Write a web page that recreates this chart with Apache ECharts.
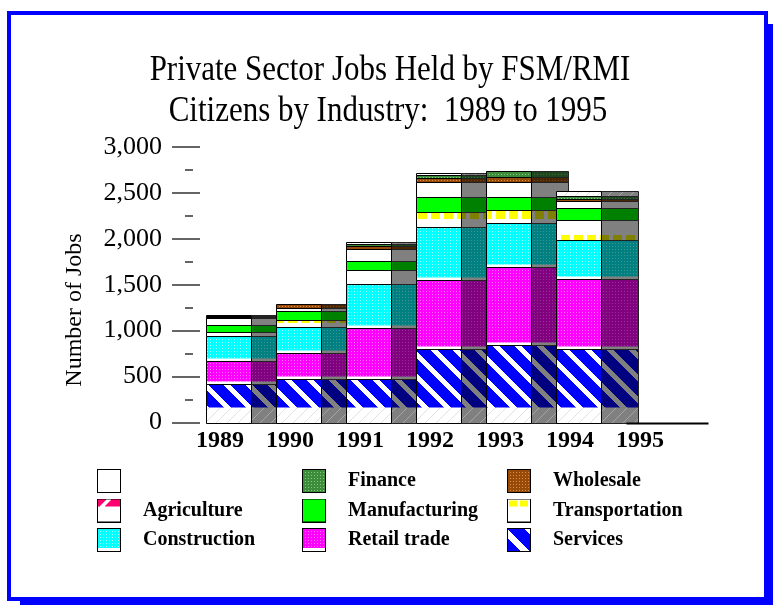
<!DOCTYPE html>
<html><head><meta charset="utf-8">
<script src="https://cdn.jsdelivr.net/npm/echarts@6/dist/echarts.min.js"></script>
<style>html,body{margin:0;padding:0;background:#fff}#c{width:773px;height:605px}</style>
</head><body><div id="c"></div>
<script>
// ---- data ----
const years = ['1989', '1990', '1991', '1992', '1993', '1994', '1995'];
const yTicks = [0, 500, 1000, 1500, 2000, 2500, 3000];
const titleLines = ['Private Sector Jobs Held by FSM/RMI', 'Citizens by Industry:  1989 to 1995'];
const services      = [420, 475, 478, 802, 845, 802, 0];
const retailTrade   = [251, 283, 553, 752, 851, 763, 0];
const construction  = [273, 284, 480, 579, 480, 426, 0];
const transportation= [38, 76, 153, 163, 142, 213, 0];
const manufacturing = [82, 98, 98, 164, 142, 136, 0];
const agriculture   = [70, 28, 125, 164, 164, 76, 0];
const wholesale     = [15, 49, 38, 43, 49, 22, 0];
const finance       = [10, 0, 22, 27, 71, 33, 0];
const otherBlank    = [14, 0, 22, 28, 0, 47, 0];

const layerNames = ['Services', 'Retail trade', 'Construction', 'Transportation', 'Manufacturing', 'Agriculture', 'Wholesale', 'Finance', ' '];
const layerValues = [services, retailTrade, construction, transportation, manufacturing, agriculture, wholesale, finance, otherBlank];

// ---- patterns ----
function tile(w, h, fn) {
  const c = document.createElement('canvas'); c.width = w; c.height = h;
  const ctx = c.getContext('2d'); const img = ctx.createImageData(w, h);
  for (let y = 0; y < h; y++) for (let x = 0; x < w; x++) {
    const col = fn(x, y); const o = (y * w + x) * 4;
    img.data[o] = col[0]; img.data[o + 1] = col[1]; img.data[o + 2] = col[2]; img.data[o + 3] = 255;
  }
  ctx.putImageData(img, 0, 0); return c;
}
const W = [255, 255, 255], G = [128, 128, 128];
const dots = (base, dot) => (x, y) => (x % 3 === 0 && y % 3 === 0) ? dot : base;
const stripe = (a, b) => (x, y) => (((x - y) % 22 + 22) % 22 < 15) ? a : b;
const diag = (base, line) => (x, y) => ((x + y) % 11 === 0) ? line : base;
const squares = (sq, bg) => (x, y) => (x % 13 >= 2 && x % 13 < 11 && y % 26 >= 1 && y % 26 < 11) ? sq : bg;

const frontFns = [
  stripe([0, 0, 255], W),
  dots([255, 0, 255], [255, 120, 255]),
  dots([0, 255, 255], [170, 255, 255]),
  squares([255, 255, 0], W),
  () => [0, 255, 0],
  () => W,
  dots([150, 75, 10], [225, 140, 60]),
  dots([60, 140, 60], [130, 200, 130]),
  diag(W, [225, 225, 225])
];
const sideFns = [
  stripe([0, 0, 128], G),
  dots([128, 0, 128], [150, 50, 150]),
  dots([0, 128, 128], [60, 150, 150]),
  squares([128, 128, 0], G),
  () => [0, 128, 0],
  () => G,
  dots([75, 38, 5], [112, 70, 30]),
  dots([30, 70, 30], [65, 100, 65]),
  diag(G, [165, 165, 165])
];
const tileSize = [[22, 22], [3, 3], [3, 3], [13, 26], [2, 2], [2, 2], [3, 3], [3, 3], [11, 11]];
const frontTiles = frontFns.map((f, k) => tile(tileSize[k][0], tileSize[k][1], f));
const sideTiles = sideFns.map((f, k) => tile(tileSize[k][0], tileSize[k][1], f));
const blankFront = tile(11, 11, diag(W, [225, 225, 225]));
const blankSide = tile(11, 11, diag(G, [165, 165, 165]));
const whiteBottom = { 1: true, 2: true };

// ---- legend icons ----
function icon(fn) {
  const c = document.createElement('canvas'); c.width = 24; c.height = 24;
  const ctx = c.getContext('2d');
  ctx.drawImage(tile(24, 24, fn), 0, 0);
  ctx.strokeStyle = '#000'; ctx.lineWidth = 1; ctx.strokeRect(0.5, 0.5, 23, 23);
  return 'image://' + c.toDataURL();
}
const iconFns = {
  'Services': (x, y) => (((x - y) % 26 + 26) % 26 < 17) ? [0, 0, 255] : W,
  'Retail trade': (x, y) => y >= 20 ? W : dots([255, 0, 255], [255, 120, 255])(x, y),
  'Construction': (x, y) => y >= 20 ? W : dots([0, 255, 255], [170, 255, 255])(x, y),
  'Transportation': (x, y) => (y >= 2 && y < 8 && ((x >= 2 && x < 10) || (x >= 13 && x < 21))) ? [255, 255, 0] : W,
  'Manufacturing': () => [0, 255, 0],
  'Agriculture': (x, y) => (y < 8 && !(((x + y) % 24) >= 10 && ((x + y) % 24) < 15)) ? [255, 0, 110] : W,
  'Wholesale': dots([150, 75, 10], [225, 140, 60]),
  'Finance': dots([60, 140, 60], [130, 200, 130]),
  ' ': () => W
};

const seriesData = years.map((y, i) => [i].concat(layerValues.map(a => a[i])));

function renderItem(params, api) {
  const i = api.value(0);
  const base = api.coord([i, 0]);
  const cx = base[0];
  const fl = Math.round(cx - 14) + 0.5, fw = 45;
  const sl = fl + fw, sw = 37;
  const baseY = Math.round(base[1]) + 0.5;
  const side = [], front = [];
  let cum = 0, total = 0;
  for (let k = 0; k < layerNames.length; k++) total += api.value(k + 1);
  if (total === 0) {
    return { type: 'line', shape: { x1: fl, y1: baseY, x2: sl + sw, y2: baseY }, style: { stroke: '#000', lineWidth: 2 } };
  }
  for (let k = 0; k < layerNames.length; k++) {
    const v = api.value(k + 1);
    if (!v) continue;
    const y0 = Math.round(api.coord([i, cum])[1]) + 0.5;
    cum += v;
    const y1 = Math.round(api.coord([i, cum])[1]) + 0.5;
    const h = y0 - y1;
    const fPat = { image: frontTiles[k], repeat: 'repeat' };
    const sPat = { image: sideTiles[k], repeat: 'repeat' };
    front.push({ type: 'rect', shape: { x: fl, y: y1, width: fw, height: h }, style: { fill: fPat, stroke: 'none' } });
    side.push({ type: 'rect', shape: { x: sl, y: y1, width: sw, height: h }, style: { fill: sPat, stroke: 'none' } });
    if (whiteBottom[k] && h > 5) {
      front.push({ type: 'rect', shape: { x: fl, y: y0 - 3, width: fw, height: 3 }, style: { fill: '#fff' } });
      side.push({ type: 'rect', shape: { x: sl, y: y0 - 3, width: sw, height: 3 }, style: { fill: '#808080' } });
    }
    if (k === 0 && h > 17) {
      front.push({ type: 'rect', shape: { x: fl, y: y0 - 16, width: fw, height: 16 }, style: { fill: { image: blankFront, repeat: 'repeat' } } });
      side.push({ type: 'rect', shape: { x: sl, y: y0 - 16, width: sw, height: 16 }, style: { fill: { image: blankSide, repeat: 'repeat' } } });
    }
    front.push({ type: 'rect', shape: { x: fl, y: y1, width: fw, height: h }, style: { fill: 'none', stroke: '#000', lineWidth: 1 } });
    side.push({ type: 'rect', shape: { x: sl, y: y1, width: sw, height: h }, style: { fill: 'none', stroke: '#222', lineWidth: 1 } });
  }
  return { type: 'group', children: side.concat(front) };
}

const serif = 'Liberation Serif';
function legendCol(names, left) {
  return {
    orient: 'vertical', left: left, top: 469, itemWidth: 24, itemHeight: 24, itemGap: 5.5,
    padding: 0, selectedMode: false,
    data: names.map(n => ({ name: n, icon: iconFns[n] ? icon(iconFns[n]) : 'rect' })),
    textStyle: { fontFamily: serif, fontSize: 20, fontWeight: 'bold', color: '#000', padding: [0, 0, 0, 17] }
  };
}

const chart = echarts.init(document.getElementById('c'), null, { renderer: 'canvas' });
chart.setOption({
  animation: false,
  backgroundColor: '#fff',
  graphic: [
    { type: 'rect', z: -10, shape: { x: 20, y: 24, width: 753, height: 581 }, style: { fill: '#0000ff' } },
    { type: 'rect', z: -9, shape: { x: 9, y: 13, width: 757, height: 586 }, style: { fill: '#fff', stroke: '#0000ff', lineWidth: 4 } },
    { type: 'text', x: 390, y: 71, scaleX: 0.86,
      style: { text: titleLines[0], align: 'center', verticalAlign: 'middle', font: '36px "Liberation Serif"', fill: '#000' } },
    { type: 'text', x: 388, y: 112, scaleX: 0.86,
      style: { text: titleLines[1], align: 'center', verticalAlign: 'middle', font: '36px "Liberation Serif"', fill: '#000' } },
    { type: 'text', x: 75, y: 310, rotation: Math.PI / 2,
      style: { text: 'Number of Jobs', align: 'center', verticalAlign: 'middle', font: '24px "Liberation Serif"', fill: '#000' } }
  ],
  legend: [
    legendCol([' ', 'Agriculture', 'Construction'], 97),
    legendCol(['Finance', 'Manufacturing', 'Retail trade'], 302),
    legendCol(['Wholesale', 'Transportation', 'Services'], 507)
  ],
  grid: { left: 185, top: 147, width: 490, height: 275.5 },
  xAxis: {
    type: 'category', data: years, boundaryGap: true,
    axisLine: { show: false }, axisTick: { show: false },
    axisLabel: { fontFamily: serif, fontSize: 24, fontWeight: 'bold', color: '#000', margin: 6 }
  },
  yAxis: [
    {
      type: 'value', min: 0, max: 3000, interval: 500, position: 'left', offset: -15,
      axisLine: { show: false },
      axisTick: { show: true, length: 28, lineStyle: { color: '#333', width: 1.5 } },
      axisLabel: { margin: 38, fontFamily: serif, fontSize: 26, color: '#000',
        formatter: v => yTicks.indexOf(v) >= 0 ? v.toLocaleString('en-US') : '' },
      splitLine: { show: false }
    },
    {
      type: 'value', min: 0, max: 3000, interval: 250, position: 'left', offset: -8,
      axisLine: { show: false },
      axisTick: { show: true, length: 8, lineStyle: { color: '#333', width: 1.5 } },
      axisLabel: { show: false }, splitLine: { show: false }
    }
  ],
  series: [
    {
      type: 'custom', name: 'jobs', renderItem: renderItem, data: seriesData,
      encode: { x: 0, y: 1 }, xAxisIndex: 0, yAxisIndex: 0, z: 5
    }
  ].concat(layerNames.map(n => ({ type: 'line', name: n, data: [], yAxisIndex: 0 })))
});
</script></body></html>
